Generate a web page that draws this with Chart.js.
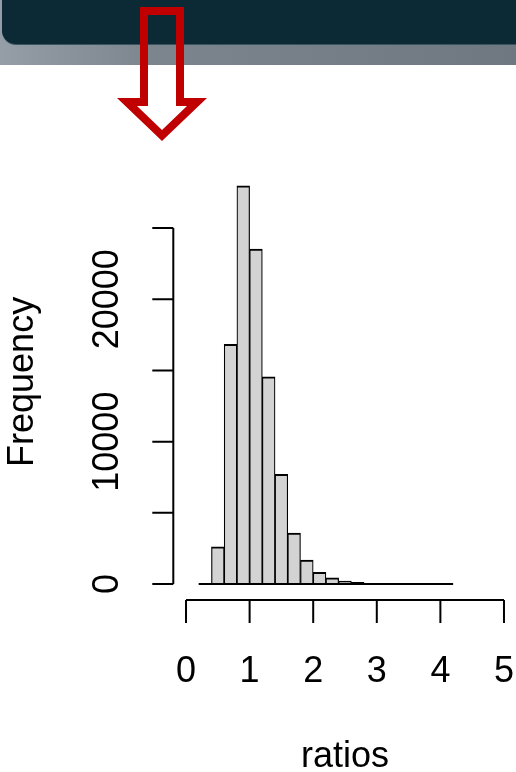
<!DOCTYPE html>
<html>
<head>
<meta charset="utf-8">
<script src="https://cdn.jsdelivr.net/npm/chart.js@4.4.1/dist/chart.umd.min.js"></script>
<style>
  html, body { margin: 0; padding: 0; background: #fff; overflow: hidden; width: 516px; height: 772px; }
  #band { position: absolute; left: 0; top: 0; width: 516px; height: 65px;
          background: linear-gradient(90deg, #959ea7 0%, #7c858e 30%, #6f7780 100%); }
  #topbar { position: absolute; left: 2px; top: -20px; width: 540px; height: 64px;
            background: #0b2a35; border-bottom-left-radius: 14px; box-shadow: 0 1px 0 #3a5560; }
  #wrap { position: absolute; left: 0; top: 0; width: 540px; height: 772px; }
  #arrow { position: absolute; left: 0; top: 0; }
</style>
</head>
<body>
<div id="band"></div>
<div id="topbar"></div>
<div id="wrap"><canvas id="hist" width="540" height="772"></canvas></div>
<svg id="arrow" width="516" height="160" viewBox="0 0 516 160">
  <path fill="#c00000" fill-rule="evenodd"
        d="M140 7 H184 V98 H207 L162 141 L117 98 H140 Z
           M148 15 V106 H137 L162 130 L187 106 H176 V15 Z"/>
</svg>
<script>
// Histogram of ratios: bins of width 0.2 starting at 0.2
const binWidth = 0.2;
const binStarts = [0.2, 0.4, 0.6, 0.8, 1.0, 1.2, 1.4, 1.6, 1.8, 2.0,
                   2.2, 2.4, 2.6, 2.8, 3.0, 3.2, 3.4, 3.6, 3.8, 4.0];
const counts = [20, 2620, 16830, 27970, 23525, 14560, 7700, 3580, 1685, 820,
                440, 210, 120, 60, 35, 20, 12, 7, 4, 2];

// Axis ticks and labels
const xTicks = [0, 1, 2, 3, 4, 5];
const xTickLabels = ["0", "1", "2", "3", "4", "5"];
const yTicks = [0, 5000, 10000, 15000, 20000, 25000];
const yTickLabels = ["0", "", "10000", "", "20000", ""];
const xTitle = "ratios";
const yTitle = "Frequency";

const FONT = '36px "Liberation Sans", Arial, sans-serif';

// usr ranges with 4% padding, as base graphics does
const xLo = xTicks[0], xHi = xTicks[xTicks.length - 1];
const xPad = (xHi - xLo) * 0.04;
const yMax = Math.max(...counts);
const yPad = yMax * 0.04;

const points = binStarts.map((s, i) => ({ x: s + binWidth / 2, y: counts[i] }));

const baseAxes = {
  id: 'baseAxes',
  afterDatasetsDraw(chart) {
    const { ctx, chartArea } = chart;
    const sx = chart.scales.x, sy = chart.scales.y;
    ctx.save();
    ctx.strokeStyle = '#000';
    ctx.fillStyle = '#000';
    ctx.lineWidth = 2;
    ctx.lineCap = 'butt';

    // bottom edge of the bars
    const y0 = sy.getPixelForValue(0);
    ctx.beginPath();
    ctx.moveTo(sx.getPixelForValue(binStarts[0]), y0);
    ctx.lineTo(sx.getPixelForValue(binStarts[binStarts.length - 1] + binWidth), y0);
    ctx.stroke();

    // x axis
    const ay = chartArea.bottom;
    ctx.beginPath();
    ctx.moveTo(sx.getPixelForValue(xTicks[0]), ay);
    ctx.lineTo(sx.getPixelForValue(xTicks[xTicks.length - 1]), ay);
    xTicks.forEach(v => {
      const px = sx.getPixelForValue(v);
      ctx.moveTo(px, ay);
      ctx.lineTo(px, ay + 23);
    });
    ctx.stroke();
    ctx.font = FONT;
    ctx.textAlign = 'center';
    ctx.textBaseline = 'alphabetic';
    xTicks.forEach((v, i) => {
      ctx.fillText(xTickLabels[i], sx.getPixelForValue(v), ay + 82);
    });
    ctx.fillText(xTitle, (chartArea.left + chartArea.right) / 2, ay + 167);

    // y axis
    const ax = chartArea.left;
    ctx.beginPath();
    ctx.moveTo(ax, sy.getPixelForValue(yTicks[0]));
    ctx.lineTo(ax, sy.getPixelForValue(yTicks[yTicks.length - 1]));
    yTicks.forEach(v => {
      const py = sy.getPixelForValue(v);
      ctx.moveTo(ax, py);
      ctx.lineTo(ax - 21, py);
    });
    ctx.stroke();
    yTicks.forEach((v, i) => {
      if (!yTickLabels[i]) return;
      ctx.save();
      ctx.translate(ax - 55, sy.getPixelForValue(v));
      ctx.rotate(-Math.PI / 2);
      ctx.fillText(yTickLabels[i], 0, 0);
      ctx.restore();
    });
    ctx.save();
    ctx.translate(ax - 140, (chartArea.top + chartArea.bottom) / 2 - 3);
    ctx.rotate(-Math.PI / 2);
    ctx.fillText(yTitle, 0, 0);
    ctx.restore();

    ctx.restore();
  }
};

new Chart(document.getElementById('hist'), {
  type: 'bar',
  data: {
    datasets: [{
      data: points,
      backgroundColor: '#d3d3d3',
      borderColor: '#000',
      borderWidth: { top: 2, left: 1.2, right: 1.2, bottom: 0 },
      borderSkipped: 'start',
      barPercentage: 1,
      categoryPercentage: 1,
      clip: false
    }]
  },
  options: {
    responsive: false,
    animation: false,
    events: [],
    layout: { padding: { left: 173.3, right: 23.3, top: 169.8, bottom: 172 } },
    plugins: { legend: { display: false }, tooltip: { enabled: false } },
    scales: {
      x: {
        type: 'linear', display: false, offset: false,
        min: xLo - xPad, max: xHi + xPad,
        afterBuildTicks: s => { s.ticks = xTicks.map(v => ({ value: v })); }
      },
      y: {
        type: 'linear', display: false,
        min: -yPad, max: yMax + yPad
      }
    }
  },
  plugins: [baseAxes]
});
</script>
</body>
</html>
